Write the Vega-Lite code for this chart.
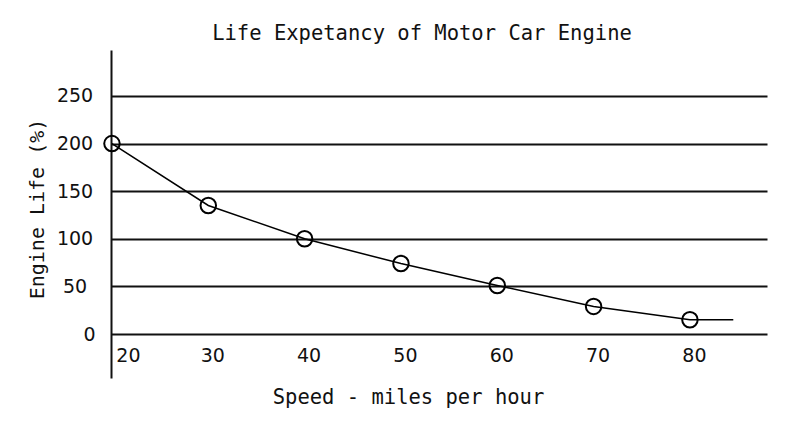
{
  "$schema": "https://vega.github.io/schema/vega-lite/v6.json",
  "width": 656,
  "height": 328,
  "autosize": {"type": "none"},
  "padding": {"left": 111, "top": 50, "right": 28, "bottom": 45},
  "background": "white",
  "config": {"view": {"stroke": null}},
  "title": {
    "text": "Life Expetancy of Motor Car Engine",
    "font": "DejaVu Sans Mono",
    "fontSize": 20.5,
    "fontWeight": "normal",
    "color": "#111111",
    "anchor": "middle",
    "dx": -17,
    "dy": 19,
    "offset": 9,
    "baseline": "alphabetic"
  },
  "data": {
    "values": [
      {"speed": 20, "life": 200},
      {"speed": 30, "life": 135},
      {"speed": 40, "life": 100},
      {"speed": 50, "life": 74},
      {"speed": 60, "life": 51},
      {"speed": 70, "life": 29},
      {"speed": 80, "life": 15},
      {"speed": 84.5, "life": 15}
    ]
  },
  "encoding": {
    "x": {
      "field": "speed",
      "type": "quantitative",
      "scale": {"domain": [19.9, 88], "nice": false, "zero": false},
      "axis": {
        "title": "Speed - miles per hour",
        "values": [20, 30, 40, 50, 60, 70, 80],
        "grid": false,
        "domain": false,
        "ticks": false,
        "labelPadding": -32,
        "labelOffset": {"condition": {"test": "datum.value === 20", "value": 16}, "value": 4},
        "labelFont": "DejaVu Sans",
        "labelFontSize": 19,
        "labelColor": "#111111",
        "labelFlush": false,
        "labelOverlap": false,
        "titleFont": "DejaVu Sans Mono",
        "titleFontSize": 20.5,
        "titleFontWeight": "normal",
        "titleColor": "#111111",
        "titleX": 297,
        "titleY": 25,
        "titleBaseline": "alphabetic",
        "titleAlign": "center"
      }
    },
    "y": {
      "field": "life",
      "type": "quantitative",
      "scale": {"domain": [-46.2, 298.3], "nice": false, "zero": false},
      "axis": {
        "title": "Engine Life (%)",
        "values": [0, 50, 100, 150, 200, 250],
        "grid": true,
        "gridColor": "#111111",
        "gridWidth": 2,
        "gridOpacity": 1,
        "domain": true,
        "domainColor": "#111111",
        "domainWidth": 2,
        "ticks": false,
        "labelAlign": "center",
        "labelBaseline": "middle",
        "labelPadding": {"condition": {"test": "datum.value === 0", "value": 22}, "value": 36.5},
        "labelFont": "DejaVu Sans",
        "labelFontSize": 19,
        "labelColor": "#111111",
        "labelOverlap": false,
        "titleFont": "DejaVu Sans Mono",
        "titleFontSize": 20,
        "titleFontWeight": "normal",
        "titleColor": "#111111",
        "titleAngle": 270,
        "titleX": -68,
        "titleY": 158.5,
        "titleBaseline": "alphabetic",
        "titleAlign": "center"
      }
    }
  },
  "layer": [
    {
      "mark": {"type": "line", "color": "#000000", "strokeWidth": 1.5}
    },
    {
      "transform": [{"filter": "datum.speed <= 80"}],
      "mark": {"type": "point", "shape": "circle", "filled": false, "color": "#000000", "strokeWidth": 2, "size": 240, "opacity": 1}
    }
  ]
}
